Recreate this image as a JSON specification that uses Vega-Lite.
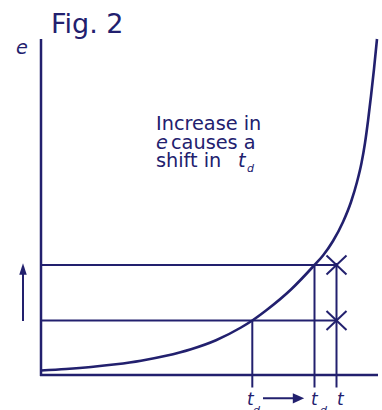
{
  "$schema": "https://vega.github.io/schema/vega-lite/v6.json",
  "width": 382,
  "height": 410,
  "autosize": "none",
  "padding": 0,
  "background": "white",
  "config": {"view": {"stroke": null}},
  "datasets": {
    "segments": [
      {"part": "axis", "t": 0, "e": -1, "t2": 0, "e2": 336},
      {"part": "axis", "t": -1, "e": 0, "t2": 337, "e2": 0},
      {"part": "guide", "t": 0, "e": 110, "t2": 295.5, "e2": 110},
      {"part": "guide", "t": 0, "e": 54.5, "t2": 295.5, "e2": 54.5},
      {"part": "guide", "t": 211.3, "e": 54.5, "t2": 211.3, "e2": -12.5},
      {"part": "guide", "t": 273.5, "e": 110, "t2": 273.5, "e2": -12.5},
      {"part": "guide", "t": 295.5, "e": 112, "t2": 295.5, "e2": -12.5},
      {"part": "guide", "t": 285.5, "e": 119.5, "t2": 305.5, "e2": 100.5},
      {"part": "guide", "t": 285.5, "e": 100.5, "t2": 305.5, "e2": 119.5},
      {"part": "guide", "t": 285.5, "e": 64, "t2": 305.5, "e2": 45},
      {"part": "guide", "t": 285.5, "e": 45, "t2": 305.5, "e2": 64},
      {"part": "guide", "t": -18, "e": 54, "t2": -18, "e2": 104},
      {"part": "guide", "t": 222, "e": -23.3, "t2": 256, "e2": -23.3}
    ],
    "curve": [
      {"t": 0, "e": 4.5},
      {"t": 25, "e": 6},
      {"t": 50, "e": 8},
      {"t": 75, "e": 10.7},
      {"t": 100, "e": 14.3},
      {"t": 125, "e": 19.2},
      {"t": 150, "e": 25.8},
      {"t": 175, "e": 34.8},
      {"t": 200, "e": 47.5},
      {"t": 211.3, "e": 54.5},
      {"t": 225, "e": 64.5},
      {"t": 250, "e": 85.5},
      {"t": 273.5, "e": 110},
      {"t": 282, "e": 119.5},
      {"t": 292, "e": 134},
      {"t": 302, "e": 153},
      {"t": 310, "e": 173},
      {"t": 316, "e": 193},
      {"t": 320.5, "e": 212},
      {"t": 324, "e": 232},
      {"t": 327, "e": 254},
      {"t": 330, "e": 279},
      {"t": 333, "e": 306},
      {"t": 336, "e": 336}
    ],
    "heads": [
      {"dir": "up", "t": -18, "e": 106},
      {"dir": "right", "t": 257.5, "e": -23.3}
    ],
    "labels": [
      {"role": "title", "text": "Fig. 2", "t": 10, "e": 342.5},
      {"role": "italic", "text": "e", "t": -25, "e": 321.5},
      {"role": "body", "text": "Increase in", "t": 115, "e": 245},
      {"role": "italic", "text": "e", "t": 115, "e": 226},
      {"role": "body", "text": "causes a", "t": 130, "e": 226},
      {"role": "body", "text": "shift in", "t": 115, "e": 207.7},
      {"role": "italic", "text": "t", "t": 197, "e": 207.7},
      {"role": "sub", "text": "d", "t": 206, "e": 203.5},
      {"role": "tick", "text": "t", "t": 206, "e": -30},
      {"role": "sub", "text": "d", "t": 212, "e": -39},
      {"role": "tick", "text": "t", "t": 270, "e": -30},
      {"role": "sub", "text": "d", "t": 279, "e": -39},
      {"role": "tick", "text": "t", "t": 296, "e": -30}
    ]
  },
  "encoding": {
    "x": {"field": "t", "type": "quantitative", "scale": {"domain": [-41, 341], "nice": false, "zero": false}, "axis": null},
    "y": {"field": "e", "type": "quantitative", "scale": {"domain": [-35, 375], "nice": false, "zero": false}, "axis": null}
  },
  "layer": [
    {
      "data": {"name": "segments"},
      "transform": [{"filter": "datum.part === 'axis'"}],
      "mark": {"type": "rule", "color": "#22206e", "strokeWidth": 2.5},
      "encoding": {"x2": {"field": "t2"}, "y2": {"field": "e2"}}
    },
    {
      "data": {"name": "segments"},
      "transform": [{"filter": "datum.part === 'guide'"}],
      "mark": {"type": "rule", "color": "#22206e", "strokeWidth": 2},
      "encoding": {"x2": {"field": "t2"}, "y2": {"field": "e2"}}
    },
    {
      "data": {"name": "curve"},
      "mark": {"type": "line", "color": "#22206e", "strokeWidth": 2.6, "interpolate": "monotone"},
      "encoding": {"order": {"field": "t", "type": "quantitative"}}
    },
    {
      "data": {"name": "heads"},
      "mark": {"type": "point", "filled": true, "opacity": 1, "color": "#22206e", "size": 130},
      "encoding": {
        "shape": {"field": "dir", "type": "nominal", "legend": null, "scale": {"domain": ["up", "right"], "range": ["M0,-1L0.66,1L-0.66,1Z", "M1,0L-1,-0.9L-1,0.9Z"]}}
      }
    },
    {
      "data": {"name": "labels"},
      "transform": [{"filter": "datum.role === 'title'"}],
      "mark": {"type": "text", "font": "DejaVu Sans", "fontSize": 27, "color": "#22206e", "align": "left", "baseline": "alphabetic"},
      "encoding": {"text": {"field": "text"}}
    },
    {
      "data": {"name": "labels"},
      "transform": [{"filter": "datum.role === 'body'"}],
      "mark": {"type": "text", "font": "DejaVu Sans", "fontSize": 19.3, "color": "#22206e", "align": "left", "baseline": "alphabetic"},
      "encoding": {"text": {"field": "text"}}
    },
    {
      "data": {"name": "labels"},
      "transform": [{"filter": "datum.role === 'italic'"}],
      "mark": {"type": "text", "font": "DejaVu Sans", "fontSize": 19.3, "fontStyle": "italic", "color": "#22206e", "align": "left", "baseline": "alphabetic"},
      "encoding": {"text": {"field": "text"}}
    },
    {
      "data": {"name": "labels"},
      "transform": [{"filter": "datum.role === 'tick'"}],
      "mark": {"type": "text", "font": "DejaVu Sans", "fontSize": 17, "fontStyle": "italic", "color": "#22206e", "align": "left", "baseline": "alphabetic"},
      "encoding": {"text": {"field": "text"}}
    },
    {
      "data": {"name": "labels"},
      "transform": [{"filter": "datum.role === 'sub'"}],
      "mark": {"type": "text", "font": "DejaVu Sans", "fontSize": 11, "fontStyle": "italic", "color": "#22206e", "align": "left", "baseline": "alphabetic"},
      "encoding": {"text": {"field": "text"}}
    }
  ]
}
